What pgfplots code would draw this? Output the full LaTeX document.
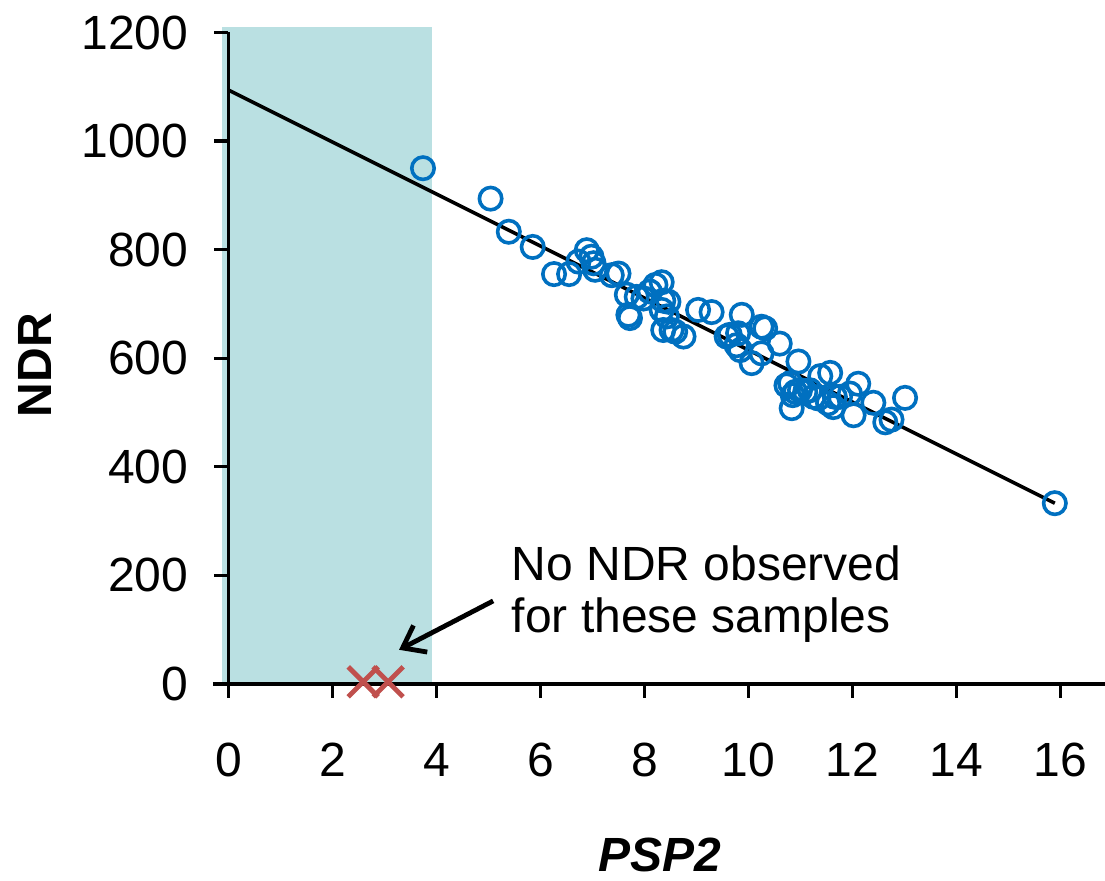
\documentclass[border=0pt]{standalone}
\usepackage{pgfplots}
\pgfplotsset{compat=1.18}
\usepackage{fontspec}
\setmainfont{Liberation Sans}
\usetikzlibrary{arrows.meta}
\definecolor{ptblue}{RGB}{0,112,192}
\definecolor{xred}{RGB}{192,80,77}
\definecolor{shadec}{RGB}{186,224,226}
\pgfplotstableread{
x y
3.74 950
5.04 894
5.39 833
5.85 805
6.26 755
6.55 755
6.73 778
6.89 799
6.98 787
7.02 775
7.05 763
7.37 753
7.50 756
7.66 717
7.85 713
7.69 680
7.72 674
7.98 710
8.10 723
8.21 735
8.33 740
8.36 706
8.46 704
8.33 689
8.43 677
8.36 652
8.52 652
8.59 649
8.75 640
9.03 689
9.29 685
9.58 640
9.64 643
9.80 646
9.87 680
9.77 624
9.84 615
10.06 591
10.25 658
10.32 655
10.25 609
10.60 627
10.96 594
10.73 550
10.80 554
10.85 532
10.90 538
10.99 541
11.09 538
11.18 541
11.25 529
10.83 508
11.38 567
11.57 573
11.34 526
11.53 517
11.63 510
11.66 529
11.76 529
11.95 535
12.11 553
12.02 495
12.40 518
12.63 482
12.75 487
13.01 527
15.89 333
}\ptdata
\begin{document}
\begin{tikzpicture}
\begin{axis}[name=ax, scale only axis, width=438.25pt, height=325.75pt,
  xmin=0, xmax=16.855, ymin=0, ymax=1200,
  axis lines*=left,
  xtick={0,2,...,16}, ytick={0,200,...,1200},
  tick align=outside, major tick length=7pt,
  tick style={black, line width=1.6pt},
  axis line style={black, line width=1.6pt},
  axis on top,
  clip=false,
  tick label style={font=\fontsize{24}{28}\selectfont},
  /pgf/number format/assume math mode=true,
  /pgf/number format/1000 sep={},
  xticklabel style={anchor=center, yshift=-31pt},
  yticklabel style={anchor=east, inner sep=0pt, xshift=-13pt},
  xlabel={\textbf{\textit{PSP2}}}, ylabel={\textbf{NDR}},
  label style={font=\fontsize{24}{28}\selectfont},
  xlabel style={at={(axis description cs:0.4923,-0.2625)}, anchor=center},
  ylabel style={at={(axis description cs:-0.2208,0.4896)}, anchor=center},
]
\addplot[fill=shadec, draw=none] coordinates {(-0.125,0) (3.91,0) (3.91,1211) (-0.125,1211)} -- cycle;
\draw[black, line width=1.6pt] (axis cs:-0.3,0) -- (axis cs:0,0);
\addplot[black, line width=1.8pt] coordinates {(0,1094) (15.89,333)};
\addplot[only marks, mark=o, mark size=5.6pt, color=ptblue, mark options={line width=1.8pt}] table[x=x,y=y] {\ptdata};
\addplot[only marks, mark=x, mark size=10.6pt, color=xred, mark options={line width=2.4pt}] coordinates {(2.59,4) (3.07,4)};
\draw[black, line width=2.4pt, -{Straight Barb[length=10pt,width=15pt,line width=2.4pt]}] (axis cs:5.09,153) -- (axis cs:3.28,63);
\node[anchor=north west, inner sep=0pt, align=left, font=\fontsize{24}{26}\selectfont] at (axis cs:5.44,255) {No NDR observed\\for these samples};
\end{axis}
\pgfresetboundingbox
\path[use as bounding box] ([shift={(-114.25pt,-98.5pt)}]ax.south west) rectangle ([shift={(438.25pt,342pt)}]ax.south west);
\end{tikzpicture}
\end{document}
